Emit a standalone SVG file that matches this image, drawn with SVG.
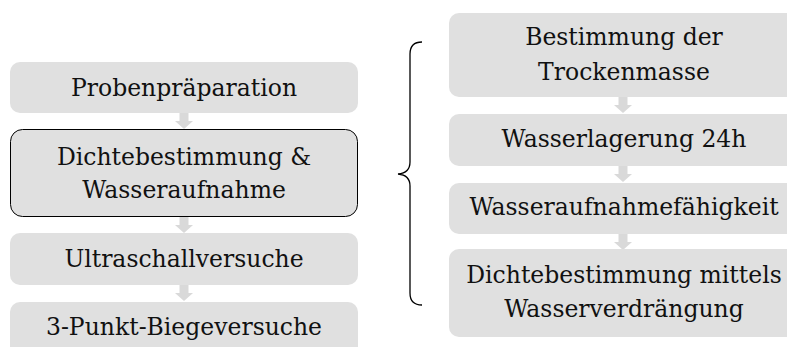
<svg xmlns="http://www.w3.org/2000/svg" width="787" height="347" viewBox="0 0 787 347">
<style>
.box{fill:#e0e0e0}
.hl{fill:#e0e0e0;stroke:#000;stroke-width:1}
.t{font-family:"DejaVu Serif","Liberation Serif",serif;font-size:23.5px;fill:#111;text-anchor:middle}
.arr{fill:#d9d9d9}
.brace{fill:none;stroke:#000;stroke-width:1.3}
</style>
<defs>
<polygon id="ar" points="-4.5,0 4.5,0 4.5,8 9,8 0,16 -9,8 -4.5,8"/>
</defs>
<rect width="787" height="347" fill="#fff"/>
<g id="connectors">
<use href="#ar" class="arr" x="184" y="113"/>
<use href="#ar" class="arr" x="184" y="217"/>
<use href="#ar" class="arr" x="184" y="285"/>
<use href="#ar" class="arr" x="623" y="97"/>
<use href="#ar" class="arr" x="623" y="166"/>
<use href="#ar" class="arr" x="623" y="234"/>
</g>
<g id="n1"><rect class="box" x="10" y="62" width="348" height="51" rx="10"/><text class="t" x="184" y="96">Probenpräparation</text></g>
<g id="n2"><rect class="hl" x="10.5" y="129.5" width="347" height="87" rx="12"/><text class="t" x="184" y="165">Dichtebestimmung &amp;</text><text class="t" x="184" y="198">Wasseraufnahme</text></g>
<g id="n3"><rect class="box" x="10" y="233" width="348" height="52" rx="10"/><text class="t" x="184" y="267">Ultraschallversuche</text></g>
<g id="n4"><rect class="box" x="10" y="302" width="348" height="60" rx="10"/><text class="t" x="184" y="335">3-Punkt-Biegeversuche</text></g>
<g id="r1"><rect class="box" x="449" y="13" width="352" height="84" rx="10"/><text class="t" x="624" y="45">Bestimmung der</text><text class="t" x="624" y="80">Trockenmasse</text></g>
<g id="r2"><rect class="box" x="449" y="114" width="352" height="52" rx="10"/><text class="t" x="624" y="147">Wasserlagerung 24h</text></g>
<g id="r3"><rect class="box" x="449" y="183" width="352" height="51" rx="10"/><text class="t" x="624" y="215">Wasseraufnahmefähigkeit</text></g>
<g id="r4"><rect class="box" x="449" y="249" width="352" height="88" rx="10"/><text class="t" x="624" y="283">Dichtebestimmung mittels</text><text class="t" x="624" y="317">Wasserverdrängung</text></g>
<g id="brace"><path class="brace" d="M422,42 Q410,42 410,54 L410,162 Q410,173 398,174 Q410,175 410,186 L410,293 Q410,305 422,305"/></g>
</svg>
